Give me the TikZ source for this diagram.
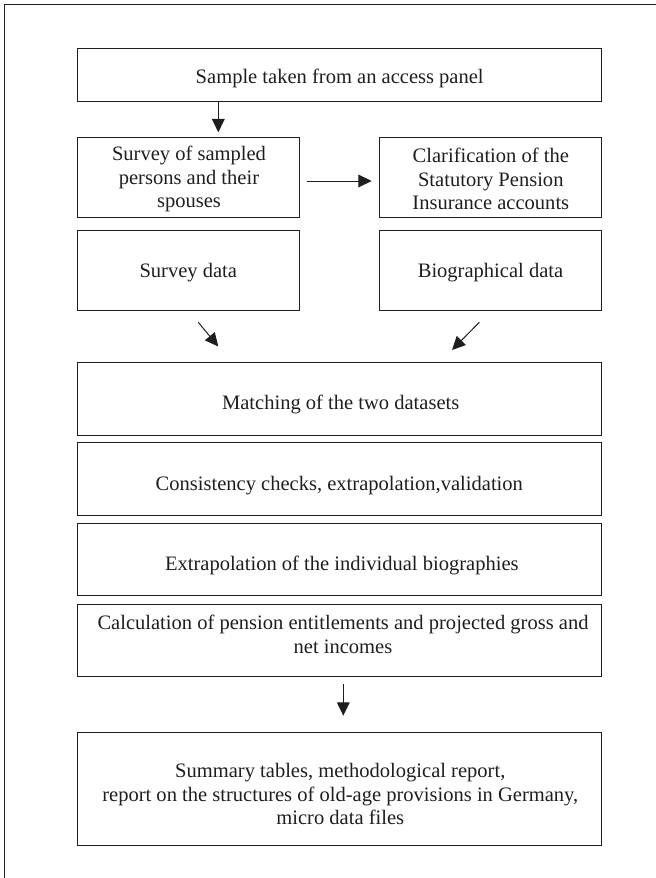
\documentclass[tikz,border=0pt]{standalone}
\usepackage{fontspec}
\setmainfont{Liberation Serif}
\usetikzlibrary{arrows.meta}
\definecolor{ink}{RGB}{30,30,30}
\tikzset{
  box/.style={draw=ink, line width=0.75pt, inner sep=0pt, outer sep=0pt},
  txt/.style={inner sep=0pt, outer sep=0pt, align=center, text=ink, font=\fontsize{15.4pt}{17.8pt}\selectfont},
  arr/.style={draw=ink, line width=0.75pt, -{Triangle[length=10pt, width=9.5pt]}},
  frameline/.style={draw=ink, line width=0.8pt}
}
\begin{document}
\begin{tikzpicture}[x=0.75pt, y=-0.75pt]
\useasboundingbox (0,0) rectangle (656,878);
% outer frame (only top and left edges visible)
\draw[frameline] (4.7,878) -- (4.7,4.7) -- (656,4.7);

% boxes
\node[box, minimum width=393pt, minimum height=40.05pt] (top) at (339.7,75) {};
\node[box, minimum width=166.2pt, minimum height=60.3pt] (survey) at (188.5,177.5) {};
\node[box, minimum width=166.65pt, minimum height=60.3pt] (clar) at (490.4,177.5) {};
\node[box, minimum width=166.2pt, minimum height=60.2pt] (sdata) at (188.5,270.2) {};
\node[box, minimum width=166.65pt, minimum height=60.2pt] (bio) at (490.4,270.2) {};
\node[box, minimum width=392.5pt, minimum height=54.2pt] (match) at (339.4,398.9) {};
\node[box, minimum width=392.5pt, minimum height=54.45pt] (cons) at (339.4,479) {};
\node[box, minimum width=392.5pt, minimum height=54.3pt] (extra) at (339.4,559.5) {};
\node[box, minimum width=392.5pt, minimum height=54.4pt] (calc) at (339.4,640.3) {};
\node[box, minimum width=392.5pt, minimum height=85.3pt] (summ) at (339.4,788.9) {};

% texts
\node[txt] (ttop) at (339.7,78.3) {Sample taken from an access panel};
\node[txt] (tsurvey) at (189,179) {Survey of sampled\\persons and their\\spouses};
\node[txt] (tclar) at (490.8,179) {Clarification of the\\Statutory Pension\\Insurance accounts};
\node[txt] (tsdata) at (188.3,272.7) {Survey data};
\node[txt] (tbio) at (490.5,272.7) {Biographical data};
\node[txt] (tmatch) at (340.7,404) {Matching of the two datasets};
\node[txt] (tcons) at (339.3,486) {Consistency checks, extrapolation,validation};
\node[txt] (textra) at (341.8,565.7) {Extrapolation of the individual biographies};
\node[txt] (tcalc) at (343,634.5) {Calculation of pension entitlements and projected gross and\\net incomes};
\node[txt] (tsumm) at (340.3,794) {Summary tables, methodological report,\\report on the structures of old-age provisions in Germany,\\micro data files};

% connectors
\coordinate (a1e) at (218.3,132.3);
\draw[arr] (top.south -| a1e) -- (a1e);
\coordinate (a2s) at (306.7,181);
\coordinate (a2e) at (371.7,181);
\draw[arr] (a2s) -- (a2e);
\coordinate (a3s) at (198.3,322.3);
\coordinate (a3e) at (218.3,346.5);
\draw[arr] (a3s) -- (a3e);
\coordinate (a4s) at (479.3,322.3);
\coordinate (a4e) at (452,350);
\draw[arr] (a4s) -- (a4e);
\coordinate (a5s) at (343.3,684.3);
\coordinate (a5e) at (343.3,715.7);
\draw[arr] (a5s) -- (a5e);
\end{tikzpicture}
\end{document}
